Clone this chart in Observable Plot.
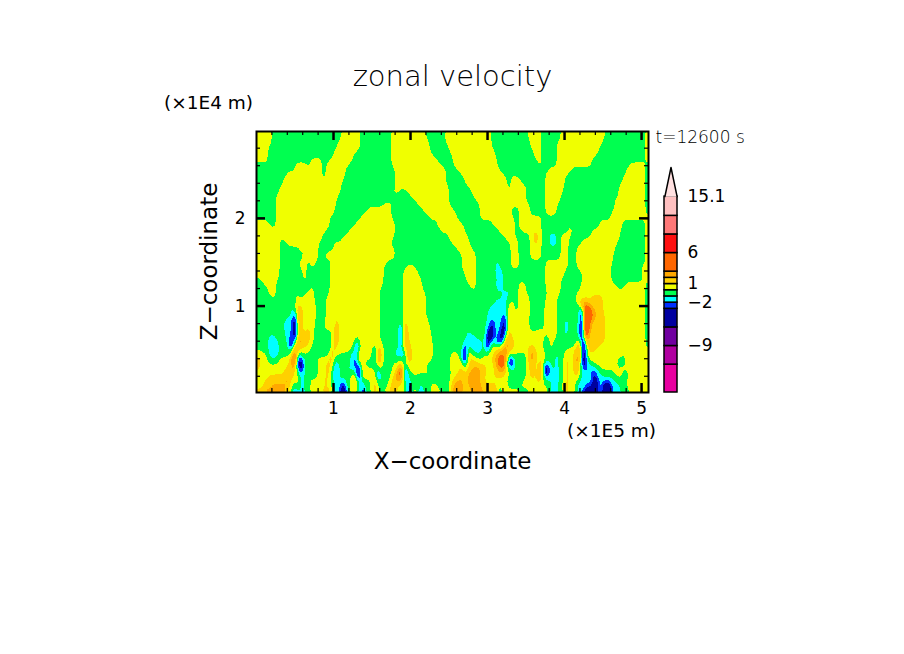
<!DOCTYPE html>
<html><head><meta charset="utf-8">
<script src="https://cdn.jsdelivr.net/npm/d3@7"></script>
<script src="https://cdn.jsdelivr.net/npm/@observablehq/plot@0.6"></script>
<style>
html,body{margin:0;padding:0;background:#fff;width:904px;height:654px;overflow:hidden}
#main,#bar{position:absolute;left:0;top:0}
svg{display:block;background:transparent}
</style></head><body><div id="main"></div><div id="bar"></div>
<script>
// contour levels of the field (m/s) and their fills, lowest first
const levels = [-12,-9,-6,-3,-2,-1,0,1,2,3,6,9,12,15.1];
const fills = ["#e800a0","#b000a0","#7000a0","#0000a0","#0030ff","#00ffff","#00ff50","#f0ff00","#ffd000","#ffa800","#ff6600","#ff1010","#ff7878","#ffc0c0","#ffe0e0"];
// class letters -> typical value inside that band
const classValues = {n:-5.8,B:-2.5,C:-1.5,g:-0.5,y:0.5,d:1.5,O:2.5,R:5,r:8};
// each row (top to bottom): band letter + x where it ends, in units of 5 km
const rowsUpper = [
"y4 g22 y27 g35 y44 g49 y61 g70 y74 g79 y91 g101 y102",
"y4 g22 y27 g35 y44 g49 y61 g71 y74 g79 y90 g101 y102",
"y4 g21 y27 g35 y45 g49 y61 g71 y74 g78 y90 g101 y102",
"y3 g21 y27 g35 y45 g50 y61 g71 y74 g78 y89 g101 y102",
"y3 g20 y26 g35 y45 g50 y62 g72 y74 g78 y89 g101 y102",
"y3 g15 y16 g20 y25 g35 y46 g51 y62 g72 y74 g78 y88 g101 y102",
"y3 g14 y15 g16 y17 g19 y25 g35 y47 g51 y63 g73 y74 g78 y87 g101 y102",
"g10 y13 g14 y17 g18 y24 g35 y48 g51 y62 g73 y74 g78 y87 g97 y101 g102",
"g10 y17 g18 y23 g36 y49 g52 y63 g76 y82 g96 y101 g102",
"g8 y17 g18 y23 g36 y50 g53 y64 g75 y81 g96 y101 g102",
"g7 y17 g18 y23 g36 y49 g54 y65 g66 y68 g75 y80 g95 y101 g102",
"g7 y22 g36 y49 g54 y65 g66 y69 g75 y80 g95 y101 g102",
"g6 y22 g36 y50 g55 y65 g66 y70 g75 y80 g94 y101 g102",
"g6 y22 g35 y37 g39 y50 g56 y66 g67 y71 g75 y79.5 g94 y101 g102",
"g5 y21 g40 y50 g56 y69 g75 y79 g94 y101 g102",
"g5 y21 g35 y36 g41 y50 g57 y70 g75 y79 g93 y101 g102",
"g5 y20 g33 y35 g42 y50 g58 y71 g75 y78 g93 y101 g102",
"g5 y21 g29 y35 g43 y51 g58 y66 g68 y71 g75 y78 g93 y101 g102",
"g5 y20 g28 y35 g44 y52 g58 y66 g69 y71 g75 y78 g92 y101 g102",
"g5 y19 g27 y35 g45 y52 g58 y67 g68 y74 g92 y102",
"y3 g5 y19 g26 y36 g47 y53 g61 y67 g68 y74 g89 y95 g101 y102",
"y4 g5 y19 g25 y36 g47 y54 g62 y67 g68 y74 g81 y82 g89 y95 g101 y102",
"y18 g24 y36 g48 y54 g63 y67 g69 y74 g81 y82 g87 y94 g101 y102",
"y17 g23 y36 g50 y55 g64 y67 g71 y72 O73 y74 g76 C78 g79 y82 g87 y95 g101 y102",
"y6 g7 y17 g22 y35 g50 y55 g65 y68 g71 y72 O73 y74 g76 C78 g79 y81 g85 y94 g101 y102",
"y6 g8 y16 g20 y35 g51 y55.5 g66 y68 g71 y74 g76 C78 g79 y81 g84 y93.5 g101 y102",
"y6 g11 y16 g20 y34 g35 y36 g52 y56 g66 y68 g71 y74 g79 y81 g83 y93 g101 y102",
"y6 g13 y16 g18 y36 g53 y57 g66 y68 g71 y74 g79 y81 g83 y93 g101 y102",
"y6 g12 y15 g16 y36 g54 y57 g66 y68 g71 y74 g79 y81 g83 y92 g101 y102",
"y6 g11 y13 g14 y16 g20 y34 g53 y57 g62 C63 g66 y69 g75 y81 g83 y93 g101 y102"
];
const rowsMiddle = [
"y6 g11 y13 g14 y15 g19 y33 g39 y41 g53 y57 g62 C63 g66 y68 g75 y81 g83 y92 g100 y102",
"y6 g12 y13 g19 y33 g38 y42 g54 y57 g62 C64 g75 y80 g84 y92 g100 y102",
"y6 g12 y13 g19 y33 g38 y42 g54 y57 g62 C64 g75 y80 g85 y92 g100 y102",
"g1 y5.5 g12 y13 g19 y33 g38 y43 g54.5 y57 g63 C64 g75 y79 g85 y92 g101 y102",
"g2 y5 g19 y33 g38 y43 g55 y57 g62 C64 g68 y70 g75 y79 g84 y93 g96 y101 g102",
"g3 y5 g14 y15 g19 y32 g38 y43 g56 y57 g62 C64 g68 y70 g75 y79 g84 y94 g95 y101 g102",
"g3 y5 g10 y11 g13 y15 g19 y32 g38 y44 g64 C66 g68 y70 g76 y79 g84 y101 g102",
"g4 y5 g10 y11 g12 y15 g18 y32 g38 y44 g64 C66 g68 y71 g75 y78 g83 O84 g85 y87 d90 y101 g102",
"g11 y15 g18 y32 g38 y44 g62 C65 y67 g68 y71 g75 y78 g84 O85 d90 y101 g102",
"g9 C10 d12 y16 g18 y32 g38 y44 g61 C65 y67 g68 y71 g75 y78 g84 R86 d90 y101 g102",
"g9 C10 O11 d12 y15 g18 y32 g38 y44 g60 C65 y67 g68 y71 g75 d76 y78 g84 n85 R87 d90 y101 g102",
"g9.5 C10 n10.5 R11 d12 y15.5 g18 y19.5 C20 y32 g38 y44 g60 C65 y71 g75 d76 y78 g84 n85 r86.5 R88 d90.5 y101 g102",
"g7.5 C9.5 n10.5 R11 d12 y15.5 g18 y19.5 C20 d21 y32 g38 y44.5 g60 C64 n65 R65.5 y71 g71.5 C72 g75 d76 y78 g80 C81 g84.5 n85 r85.5 R86.5 d90.5 y101 g102",
"g7 C9.5 n10.5 R11 d12 y15 g17.5 y19.5 C20 d21.5 y32 g37.5 C38 y45 g59.5 C61 n61.5 C64.5 n65 d65.5 y71 C72 g75 d76 y78 g80 C81 g84 n85 r85.5 R86.5 d90.5 y101 g102",
"g7 C9.5 n10.5 R11 d12 y13 d14 y15 g17.5 y19.5 d21.5 y32 g37 C37.5 n38 R39 y45 g59.5 C61 n61.5 C63.5 n65 d66 y71 g75 y78 g80 C81 g84 n85 r85.5 R86.5 d90.5 y101 g102",
"g7.5 C9.5 n10.5 O11 d12 y13 d14 y15 g19.5 y20 d21.5 y32 g37 C37.5 n38 O39 y45.5 g54.5 C55.5 g60 n61.5 C64 n64.5 d66 y73.5 d74 y78 g80 C81 g84 n85 r85.5 R86 d90.5 y101 g102",
"g3 C5 g7.5 C9 g9.5 n10.5 O12 d14 y15 g18.5 C19 g20 d21.5 y32 g37 C37.5 n38 O39 y45.5 g54.5 C57 g60 n61.5 g63 n64.5 d66.5 y73.5 d74 y78 g80 C80.5 g84 n85 r85.5 R86 d90.5 y101 g102",
"g3 C5.5 g8.5 n9.5 g10 O12 d14 y14.5 g18.5 C19.5 d21.5 y26 C26.5 y32.5 g37 C37.5 n38 O39 d40 y45.5 g54.5 C58.5 g59.5 n60.5 g62 n64 O65.5 d67 y75 n75.5 y77 g83 C83.5 O84.5 n85.5 O86 d90.5 y101 g102",
"g3 C6 g8.5 n9.5 d10.5 O12 d13.5 y14.5 g19 C19.5 O20 d21 y25.5 n26.5 y32.5 g37.5 d40 y46 g54 n54.5 C59 g60 n60.5 y62.5 d63 O66 d67 y75 n75.5 y77 g82 C83 O84.5 n85.5 O86 d89 y91 d93 y101 g102"
];
const rowsLower = [
"g3 C6 g9 O10.5 d11 y13.5 g19 C19.5 O20 y26 n26.5 O27 y30.5 n31 O32 d33 g36 C37.5 n38 d40.5 y46 g54 n54.5 y55.5 C58.5 y59.5 n60 y62 d64 O65 d67 y70.5 O72.5 y76 g81 y82 O84.5 n85.5 d88 y95 d95.5 y102",
"d1 y3 C6 g9 O10.5 y11 g18 C19 O20 y21.5 g24 C25 n25.5 d27 y30.5 n31 O32.5 g36 C37.5 y38 n38.5 d40.5 y46 g50.5 y52.5 g53.5 n54.5 d55.5 y56.5 C59 y62 O65.5 y67 g70.5 O72.5 y75 g77.5 C78.5 g80 d81 y83 O84.5 n85.5 y95 d95.5 y102",
"d1 y3 C5.5 y9 O9.5 r10.5 n11.5 C12 g15.5 y18 d19 O20 C21 g24.5 C25.5 n26 y26.5 O27 y30.5 C31 O32.5 g36 C37.5 y38 n38.5 d40.5 y41.5 d42.5 y45.5 g50.5 d51.5 y53.5 n54.5 d56 y61 O62.5 R64.5 O65.5 n66.5 y67 g70.5 O72.5 y75 g77.5 C78.5 g80 d81 y82.5 O84.5 n85.5 y95 n95.5 y102",
"d1.5 y8 d9 O10 y10.5 n12 C12.5 g16 y18 d19 y20 C21.5 g24.5 C25.5 n26 g26.5 y28 C31.5 O32.5 g35 y37 O38 y39 d40 y42 d43 y44 g50.5 d51.5 y54 C55 d56 O57.5 y59 d60 y62 O63 R64.5 O65 n67 y67.5 g70.5 d72.5 y73.5 O74.5 g77.5 C78.5 g80 d81 y82.5 O84 y84.5 n86 y94 n94.5 y102",
"y8 d9 O10 y11 n12 C12.5 g16 y18 d19 y20 C20.5 B21 C21.5 g23.5 C25.5 y26 n27 d28 y31 C31.5 y32.5 g35.5 y37 O38 y38.5 n39 y44 g50.5 y52.5 d54 C54.5 d56.5 O58.5 d59.5 y62 O65 y66.5 g70.5 d72 y73.5 O74.5 n76 C76.5 g77.5 C78.5 g80 d81 y82.5 O84 C86.5 n87 C87.5 g89 y94 d95 y96 g97.5 y102",
"d1.5 y7 d8.5 O9.5 y11 C12.5 g16 y18 d19 y20 n20.5 C21.5 g24 C25.5 y26 n27 d28.5 y31 C31.5 n32 y32.5 g35 y36.5 R38 y38.5 n39 g40.5 y41.5 g43.5 y46 g50.5 y52.5 d55 O58.5 d60 y62 d63 O64.5 y66.5 g70.5 d72 y73 O74.5 n76 C77 g77.5 C78.5 g80 d81 y82.5 d84 C87.5 n88 C89.5 g93 y94.5 g96 y102",
"y3 d7.5 O9 y11.5 C12.5 y14 g16 y18 d19 g20 C21.5 g24.5 O26 n27 y30 d31 C31.5 n32 g35 y36 O36.5 R38 y38.5 n39 g41 y43 g50.5 y52 d54.5 O58 d59 y61 d62.5 y65 g70 y71 d72.5 y73 O74.5 y75 g76.5 C78.5 g80 d81 y82.5 d84 C87.5 n88 C90 g93 y95 g97 y102",
"y2 d7.5 O8.5 y11 C12.5 g14 y17 d19 g20 C21.5 g24 y25.5 O26.5 g30 d31.5 g34 y35 O36.5 y38 g41 C42 g44 y46 g50.5 d51.5 O54 d55 O58 d59.5 y65 g69 y74 g76.5 C78.5 g80 d81 y83 C85 y85.5 C87.5 n88.5 C94 g96 y102",
"y2 d4 O8.5 y11.5 C12.5 g14 y19 g20 C22 n23 g25 d26 C27 n27.5 g30 d31.5 g35 y35.5 O36.5 y39 n40 y41.5 C43.5 g46 y47 g50.5 O53.5 d55 O58.5 y60 d61 y65 g68 y72 d73 y74 g76.5 C78.5 g79.5 d81 y83 C85 y85.5 C87.5 n88.5 C90 n92 C94.5 g96 y102",
"d2 O7.5 y9.5 n10 C12.5 g14 y17 d19 O19.5 g20 C22 n23 C24 y25 d26 g27.5 n28 g30 d31.5 g33 y34.5 O36 y39.5 n40 y42 C43.5 g45 y48 g50.5 O53.5 d56 O63 n63.5 d64.5 y68 g71 y73 d75 y76 C78 g80 d81 y83 C85 n88.5 C90 n92 C94.5 g97 y99 g100 y102"
];
const rows = [...rowsUpper, ...rowsMiddle, ...rowsLower];
const gridWidth = 204, gridHeight = rows.length;
const field = rows.flatMap(row => {
  const runs = row.split(" ").map(t => ({v: classValues[t[0]], end: +t.slice(1)}));
  return d3.range(gridWidth).map(k => {
    const c = (k + 0.5) / 2;
    return (runs.find(r => r.end > c) || runs[runs.length - 1]).v;
  });
});
const xTicks = [1,2,3,4,5];
const zTicks = [1,2];
const xMinor = [0.2,0.4,0.6,0.8,1.2,1.4,1.6,1.8,2.2,2.4,2.6,2.8,3.2,3.4,3.6,3.8,4.2,4.4,4.6,4.8,5];
const zMinor = [0.2,0.4,0.6,0.8,1.2,1.4,1.6,1.8,2.2,2.4,2.6,2.8];
const font = "'DejaVu Sans'";
const colorScale = {type:"threshold", domain:levels, range:fills};
const W = 904, H = 654;
const note = (s, dx, dy, size, extra={}) => Plot.text([s], {text:d=>d, frameAnchor:"top-left", dx, dy, fontSize:size, lineAnchor:"middle", textAnchor:"middle", fill:"#000", ...extra});

const main = Plot.plot({
  width:W, height:H, marginLeft:256, marginRight:256, marginTop:131, marginBottom:262,
  style:{fontFamily:font, background:"transparent"},
  x:{domain:[0,5.09], label:null},
  y:{domain:[0.015,2.99], label:null},
  color:colorScale,
  marks:[
    Plot.contour(field, {width:gridWidth, height:gridHeight, x1:0, x2:5.1, y1:2.99, y2:0.015, fill:Plot.identity, thresholds:[-100,...levels], blur:0.3, shapeRendering:"crispEdges"}),
    Plot.ruleX(xMinor,{x:d=>d, insetTop:257, strokeWidth:1.2}),
    Plot.ruleX(xMinor,{x:d=>d, insetBottom:257, strokeWidth:1.2}),
    Plot.ruleX(xTicks,{x:d=>d, insetTop:252, strokeWidth:2.5}),
    Plot.ruleX(xTicks,{x:d=>d, insetBottom:252, strokeWidth:2.5}),
    Plot.ruleY(zMinor,{y:d=>d, insetRight:388, strokeWidth:1.2}),
    Plot.ruleY(zMinor,{y:d=>d, insetLeft:388, strokeWidth:1.2}),
    Plot.ruleY(zTicks,{y:d=>d, insetRight:383, strokeWidth:2.5}),
    Plot.ruleY(zTicks,{y:d=>d, insetLeft:383, strokeWidth:2.5}),
    Plot.frame({stroke:"#000", strokeWidth:2}),
    Plot.axisX({ticks:xTicks, tickSize:0, tickPadding:9, fontSize:17, label:null, tickFormat:d=>d}),
    Plot.axisY({ticks:zTicks, tickSize:0, tickPadding:11, fontSize:17, label:null, tickFormat:d=>d}),
    note("zonal velocity", 196, -55, 29, {fontWeight:200}),
    note("(×1E4 m)", -48, -28, 18.5),
    note("t=12600 s", 399, 6, 17, {textAnchor:"start", fontWeight:200}),
    note("(×1E5 m)", 355, 300, 18.5),
    note("X−coordinate", 196, 330, 23),
    note("Z−coordinate", -47, 130, 23, {rotate:-90})
  ]
});
document.getElementById("main").append(main);

// colour bar
const barLow = [-16.5,...levels], barHigh = [...levels];
const barBands = barHigh.map((h,i)=>({lo:barLow[i], hi:h, mid:(barLow[i]+h)/2}));
const tipX = [0.03,0.5,0.97], tipY = [15.1,19.8,15.1];
const barLabels = [15.1,6,1,-2,-9];
const bar = Plot.plot({
  width:W, height:H, marginLeft:664, marginRight:W-677, marginTop:167, marginBottom:262,
  style:{fontFamily:font, background:"transparent"},
  x:{domain:[0,1], axis:null},
  y:{domain:[-16.5,19.8], axis:null},
  color:colorScale,
  marks:[
    Plot.rect(barBands,{x1:0, x2:1, y1:"lo", y2:"hi", fill:"mid", stroke:"#000", strokeWidth:1.5}),
    Plot.line(tipX.map((x,i)=>({x,y:tipY[i]})),{x:"x", y:"y", fill:"#ffe0e0", stroke:"#000", strokeWidth:1.5}),
    Plot.text(barLabels,{x:()=>1, y:d=>d, text:d=>String(d).replace("-","−"), dx:10, textAnchor:"start", fontSize:17, fill:"#000"})
  ]
});
document.getElementById("bar").append(bar);
</script></body></html>
